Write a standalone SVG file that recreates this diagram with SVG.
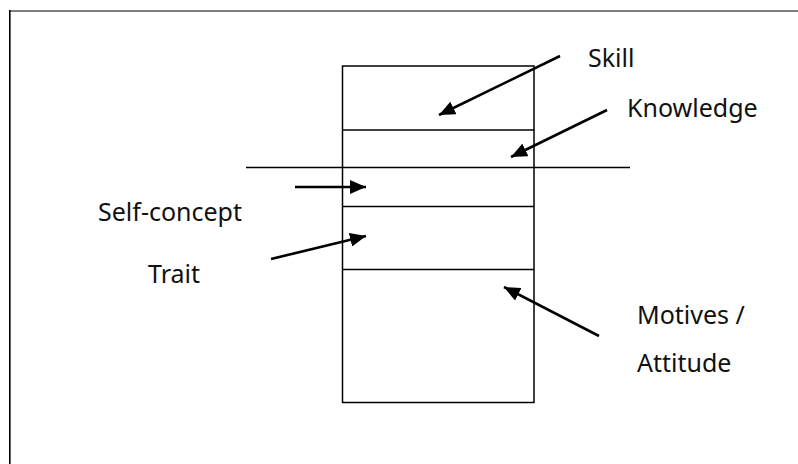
<svg xmlns="http://www.w3.org/2000/svg" width="798" height="464" viewBox="0 0 798 464">
  <style>
    .frame-top { stroke: #808080; stroke-width: 2; fill: none; }
    .frame-left { stroke: #000; stroke-width: 1.6; fill: none; }
    .layer { stroke: #000; stroke-width: 1.5; fill: none; }
    .arrow { stroke: #000; stroke-width: 2.6; fill: none; marker-end: url(#head); }
    .label { font-family: "Noto Sans", "Open Sans", sans-serif; font-size: 25px; fill: #111; }
  </style>
  <defs>
    <marker id="head" viewBox="0 0 16 14" refX="16" refY="7" markerWidth="16" markerHeight="14" markerUnits="userSpaceOnUse" orient="auto">
      <path d="M0,0 L16,7 L0,14 z" fill="#000"/>
    </marker>
  </defs>

  <rect width="798" height="464" fill="#fff"/>

  <!-- page frame -->
  <line class="frame-top" x1="9" y1="11" x2="798" y2="11"/>
  <line class="frame-left" x1="9.8" y1="10" x2="9.8" y2="464"/>

  <!-- stacked layers of the model -->
  <g id="layers">
    <rect class="layer" x="342.5" y="66" width="191.5" height="336.5"/>
    <line class="layer" x1="342.5" y1="130" x2="534" y2="130"/>
    <line class="layer" x1="342.5" y1="206.5" x2="534" y2="206.5"/>
    <line class="layer" x1="342.5" y1="269.5" x2="534" y2="269.5"/>
    <!-- surface line across the stack -->
    <line class="layer" x1="246" y1="167.5" x2="630" y2="167.5"/>
  </g>

  <g id="connectors">
    <line class="arrow" x1="560" y1="56" x2="439" y2="115"/>
    <line class="arrow" x1="607" y1="110" x2="511" y2="157"/>
    <line class="arrow" x1="295" y1="187" x2="366" y2="187"/>
    <line class="arrow" x1="271" y1="259" x2="366" y2="236"/>
    <line class="arrow" x1="599" y1="336" x2="504" y2="287"/>
  </g>

  <g id="skill"><text class="label" x="588" y="67">Skill</text></g>
  <g id="knowledge"><text class="label" x="627" y="117">Knowledge</text></g>
  <g id="self-concept"><text class="label" x="98" y="221">Self-concept</text></g>
  <g id="trait"><text class="label" x="148" y="283">Trait</text></g>
  <g id="motives">
    <text class="label" x="637" y="324">Motives /</text>
    <text class="label" x="637" y="372">Attitude</text>
  </g>
</svg>
